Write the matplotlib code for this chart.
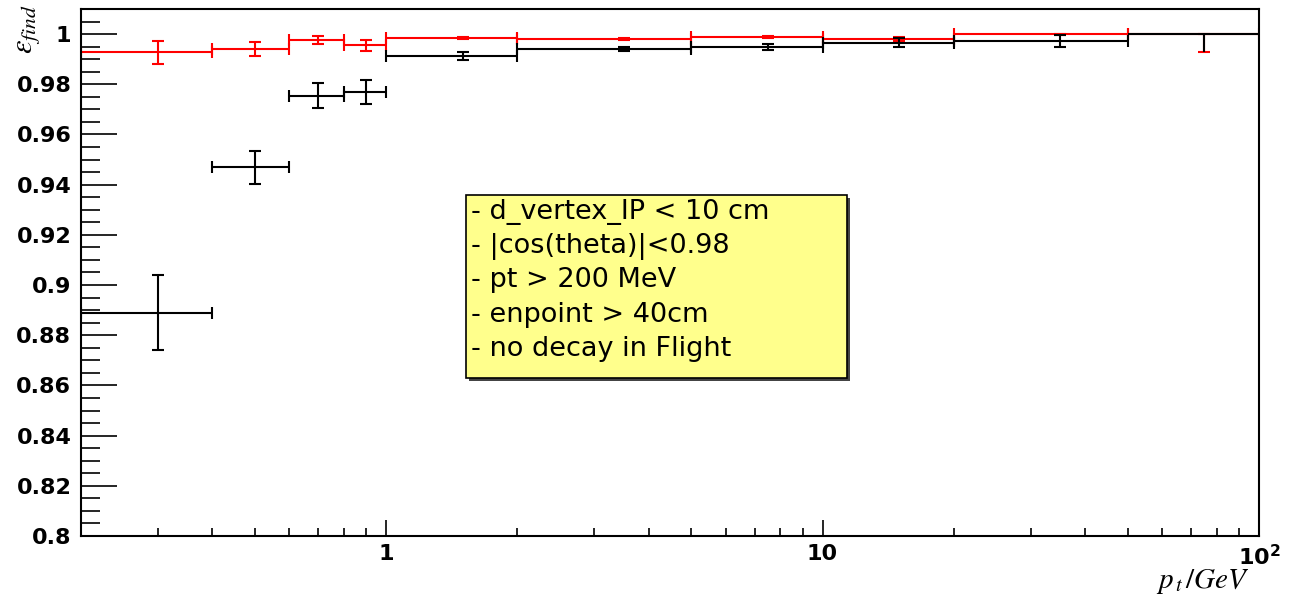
"""Track finding efficiency vs transverse momentum (ROOT-style plot)."""

import matplotlib

matplotlib.use("Agg")

import matplotlib.pyplot as plt
import numpy as np
from matplotlib.patches import Rectangle
from matplotlib.ticker import FixedLocator, MultipleLocator, FormatStrFormatter

# pt bins (GeV)
bin_lo = [0.2, 0.4, 0.6, 0.8, 1.0, 2.0, 5.0, 10.0, 20.0, 50.0]
bin_hi = [0.4, 0.6, 0.8, 1.0, 2.0, 5.0, 10.0, 20.0, 50.0, 100.0]
pt_center = [0.3, 0.5, 0.7, 0.9, 1.5, 3.5, 7.5, 15.0, 35.0, 75.0]

# black series
black_eff = [0.889, 0.947, 0.9754, 0.9768, 0.9912, 0.9941, 0.9948, 0.9965, 0.9972, 1.0]
black_err_lo = [0.015, 0.0066, 0.005, 0.0048, 0.0016, 0.0008, 0.0012, 0.0018, 0.0025, 0.0073]
black_err_hi = [0.015, 0.0066, 0.005, 0.0048, 0.0016, 0.0008, 0.0012, 0.0018, 0.0025, 0.0]

# red series
red_eff = [0.9927, 0.994, 0.9976, 0.9955, 0.9985, 0.998, 0.9988, 0.998, 1.0, 1.0]
red_err_lo = [0.0045, 0.0027, 0.0015, 0.0021, 0.0003, 0.0005, 0.0005, 0.0008, 0.0002, 0.0073]
red_err_hi = [0.0045, 0.0027, 0.0015, 0.0021, 0.0003, 0.0005, 0.0005, 0.0008, 0.0002, 0.0]

legend_lines = [
    "- d_vertex_IP < 10 cm",
    "- |cos(theta)|<0.98",
    "- pt > 200 MeV",
    "- enpoint > 40cm",
    "- no decay in Flight",
]

x_major = [1, 10, 100]
x_major_labels = ["1", "10", r"$\mathbf{10^{2}}$"]

plt.rcParams["mathtext.fontset"] = "dejavusans"

W, H = 1293, 603
fig = plt.figure(figsize=(W / 100, H / 100), dpi=100)
ax = fig.add_axes([81 / W, 1 - 536 / H, (1259 - 81) / W, (536 - 9) / H])

x = np.array(pt_center)
xerr = np.array([x - np.array(bin_lo), np.array(bin_hi) - x])

kw = dict(fmt="none", elinewidth=1.5, capsize=4, capthick=1.5)
ax.errorbar(x, red_eff, yerr=[red_err_lo, red_err_hi], xerr=xerr, ecolor="#ff0000", zorder=2, **kw)

b_lo = np.array(black_err_lo)
b_hi = np.array(black_err_hi)
be = np.array(black_eff)
ax.errorbar(x[:-1], be[:-1], yerr=[b_lo[:-1], b_hi[:-1]], xerr=xerr[:, :-1],
            ecolor="black", zorder=3, **kw)
kw_last = dict(kw, capsize=0)
ax.errorbar(x[-1:], be[-1:], yerr=[b_lo[-1:], b_hi[-1:]], xerr=xerr[:, -1:],
            ecolor="black", zorder=3, **kw_last)

ax.set_xscale("log")
ax.set_xlim(0.2, 100)
ax.set_ylim(0.8, 1.01)

ax.xaxis.set_major_locator(FixedLocator(x_major))
ax.set_xticklabels(x_major_labels)
minor_x = [v * d for d in (0.1, 1, 10) for v in range(2, 10) if 0.2 < v * d < 100]
ax.xaxis.set_minor_locator(FixedLocator(minor_x))
ax.xaxis.set_minor_formatter(plt.NullFormatter())

ax.yaxis.set_major_locator(MultipleLocator(0.02))
ax.yaxis.set_minor_locator(MultipleLocator(0.005))
ax.yaxis.set_major_formatter(FormatStrFormatter("%g"))

ax.tick_params(axis="x", which="major", direction="in", length=11.5, width=1.2,
               labelsize=16, pad=6, top=False)
ax.tick_params(axis="x", which="minor", direction="in", length=5.8, width=1.2, top=False)
ax.tick_params(axis="y", which="major", direction="in", length=26, width=1.2,
               labelsize=16, pad=7, right=False)
ax.tick_params(axis="y", which="minor", direction="in", length=13.7, width=1.2, right=False)
for lab in ax.get_xticklabels() + ax.get_yticklabels():
    lab.set_fontweight("bold")
for sp in ax.spines.values():
    sp.set_linewidth(1.5)

# axis titles
fig.text(1250 / W, 1 - 588 / H, r"$p_{\,t}\,/GeV$", ha="right", va="baseline",
         fontsize=21, math_fontfamily="stix")
fig.text(27 / W, 1 - 54 / H, r"$\epsilon_{find}$", ha="center", va="bottom",
         rotation=90, fontsize=22, math_fontfamily="stix")

# cut box
fig.patches.append(Rectangle((469 / W, 1 - 381 / H), 381 / W, 183 / H,
                             transform=fig.transFigure, facecolor="#444444",
                             edgecolor="none", zorder=4))
fig.patches.append(Rectangle((466 / W, 1 - 378 / H), 381 / W, 183 / H,
                             transform=fig.transFigure, facecolor="#ffff8c",
                             edgecolor="black", linewidth=1.2, zorder=5))
for i, line in enumerate(legend_lines):
    fig.text(471 / W, 1 - (212 + 34.2 * i) / H, line, ha="left", va="center",
             fontsize=19.5, family="DejaVu Sans", zorder=6)

fig.savefig("out.png", dpi=100)
